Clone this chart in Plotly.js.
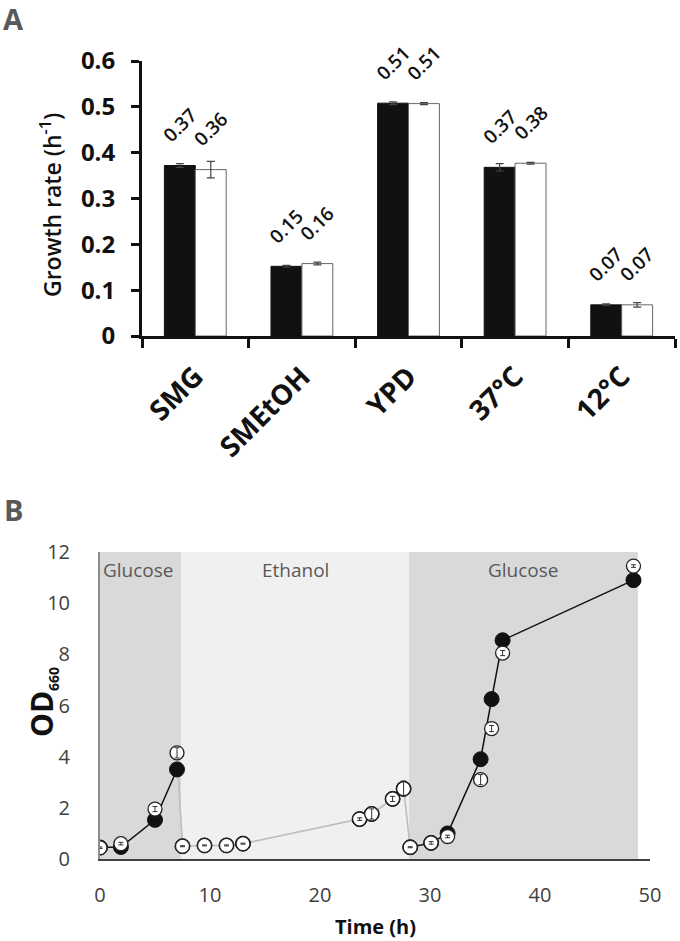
<!DOCTYPE html>
<html>
<head>
<meta charset="utf-8">
<script src="https://cdn.plot.ly/plotly-3.0.1.min.js"></script>
<style>html,body{margin:0;padding:0;background:#fff;}#chart{width:680px;height:941px;}</style>
</head>
<body>
<div id="chart"></div>
<script>
// ---------- Panel A data ----------
const categories = ['SMG', 'SMEtOH', 'YPD', '37°C', '12°C'];
const rateBlack = [0.372, 0.152, 0.508, 0.368, 0.068];
const errBlack  = [0.004, 0.002, 0.003, 0.008, 0.002];
const rateWhite = [0.363, 0.158, 0.507, 0.377, 0.068];
const errWhite  = [0.018, 0.003, 0.002, 0.002, 0.005];
const yTicksA = [0, 0.1, 0.2, 0.3, 0.4, 0.5, 0.6];
const yTickTextA = ['0', '0.1', '0.2', '0.3', '0.4', '0.5', '0.6'];

// ---------- Panel B data ----------
const timeH   = [0, 1.9, 5, 7, 7.5, 9.5, 11.5, 13, 23.6, 24.7, 26.6, 27.6, 28.2, 30.1, 31.6, 34.6, 35.6, 36.6, 48.5];
const odBlack = [0.45, 0.47, 1.53, 3.5, 0.5, 0.53, 0.53, 0.6, 1.56, 1.76, 2.35, 2.75, 0.46, 0.63, 1.0, 3.9, 6.25, 8.55, 10.9];
const odWhite = [0.44, 0.6, 1.95, 4.15, 0.5, 0.53, 0.53, 0.6, 1.56, 1.76, 2.35, 2.75, 0.46, 0.63, 0.88, 3.1, 5.1, 8.05, 11.45];
const errOdWhite = [0.03, 0.05, 0.1, 0.2, 0.02, 0.02, 0.02, 0.02, 0.05, 0.2, 0.1, 0.3, 0.02, 0.05, 0.05, 0.2, 0.12, 0.1, 0.05];
const phaseNames = ['Glucose', 'Ethanol', 'Glucose'];
const phaseStart = [0, 7.4, 28.1];
const phaseEnd   = [7.4, 28.1, 48.9];
const xTicksB = [0, 10, 20, 30, 40, 50];
const yTicksB = [0, 2, 4, 6, 8, 10, 12];

// ---------- geometry helpers ----------
const W = 680, H = 941;
const px = v => v / W;
const py = v => 1 - v / H;
const FONT = 'Open Sans, DejaVu Sans, sans-serif';

const bargap = 0.42;
const off = (1 - bargap) / 4;

const traces = [];
traces.push({
  type: 'bar', x: categories, y: rateBlack, xaxis: 'x', yaxis: 'y',
  marker: {color: '#111111', line: {color: '#111111', width: 1}},
  error_y: {type: 'data', array: errBlack, visible: true, color: '#444', thickness: 1.2, width: 4},
  hoverinfo: 'skip'
});
traces.push({
  type: 'bar', x: categories, y: rateWhite, xaxis: 'x', yaxis: 'y',
  marker: {color: '#ffffff', line: {color: '#666666', width: 1}},
  error_y: {type: 'data', array: errWhite, visible: true, color: '#444', thickness: 1.2, width: 4},
  hoverinfo: 'skip'
});

function phaseOf(t) {
  for (let i = phaseStart.length - 1; i >= 0; i--) if (t >= phaseStart[i]) return i;
  return 0;
}
const blx = [], bly = [];
let lastPhase = null;
timeH.forEach((t, i) => {
  const p = phaseOf(t);
  if (phaseNames[p] !== 'Glucose') return;
  if (lastPhase !== null && p !== lastPhase) { blx.push(null); bly.push(null); }
  blx.push(t); bly.push(odBlack[i]); lastPhase = p;
});
const gFrom = 7, gTo = 30.1;
const glx = [], gly = [];
timeH.forEach((t, i) => { if (t >= gFrom && t <= gTo) { glx.push(t); gly.push(odWhite[i]); } });

traces.push({type: 'scatter', mode: 'lines', x: glx, y: gly, xaxis: 'x2', yaxis: 'y2',
  line: {color: '#bdbdbd', width: 1.6}, hoverinfo: 'skip'});
traces.push({type: 'scatter', mode: 'lines', x: blx, y: bly, xaxis: 'x2', yaxis: 'y2',
  line: {color: '#111111', width: 1.5}, connectgaps: false, hoverinfo: 'skip'});
traces.push({type: 'scatter', mode: 'markers', x: timeH, y: odBlack, xaxis: 'x2', yaxis: 'y2',
  marker: {size: 15, color: '#111111', line: {color: '#111111', width: 1}}, hoverinfo: 'skip'});
traces.push({type: 'scatter', mode: 'markers', x: timeH, y: odWhite, xaxis: 'x2', yaxis: 'y2',
  marker: {size: 14, color: '#ffffff', line: {color: '#222222', width: 1.3}}, hoverinfo: 'skip'});
traces.push({type: 'scatter', mode: 'markers', x: timeH, y: odWhite, xaxis: 'x2', yaxis: 'y2',
  marker: {size: 1, color: 'rgba(0,0,0,0)'},
  error_y: {type: 'data', array: errOdWhite, visible: true, color: '#333', thickness: 1, width: 2.5},
  hoverinfo: 'skip'});

const phaseColors = {Glucose: '#d9d9d9', Ethanol: '#f0f0f0'};
const shapes = phaseNames.map((n, i) => ({
  type: 'rect', xref: 'x2', yref: 'y2', x0: phaseStart[i], x1: phaseEnd[i], y0: 0, y1: 12,
  fillcolor: phaseColors[n], line: {width: 0}, layer: 'below'
}));

const annotations = [];
categories.forEach((c, i) => {
  [[rateBlack, -off], [rateWhite, off]].forEach(([arr, o]) => {
    annotations.push({
      xref: 'x', yref: 'y', x: i + o, y: arr[i], text: arr[i].toFixed(2),
      showarrow: false, textangle: -45, xanchor: 'center', yanchor: 'bottom', yshift: 15,
      font: {family: FONT, size: 19, color: '#111', weight: 600}
    });
  });
});
phaseNames.forEach((n, i) => {
  const first = i === 0;
  annotations.push({
    xref: 'x2', yref: 'y2', x: first ? phaseStart[i] : (phaseStart[i] + phaseEnd[i]) / 2, y: 12,
    xanchor: first ? 'left' : 'center', yanchor: 'top', xshift: first ? 1 : 0, yshift: -3,
    text: n, showarrow: false, font: {family: FONT, size: 19, color: '#595959'}
  });
});
annotations.push({xref: 'paper', yref: 'paper', x: px(13), y: py(18), text: '<b>A</b>', showarrow: false,
  xanchor: 'center', yanchor: 'middle', font: {family: FONT, size: 29, color: '#595959'}});
annotations.push({xref: 'paper', yref: 'paper', x: px(13), y: py(509), text: '<b>B</b>', showarrow: false,
  xanchor: 'center', yanchor: 'middle', font: {family: FONT, size: 29, color: '#595959'}});
annotations.push({xref: 'paper', yref: 'paper', x: px(51), y: py(205), textangle: -90,
  text: 'Growth rate (h<sup>-1</sup>)', showarrow: false, xanchor: 'center', yanchor: 'middle',
  font: {family: FONT, size: 23, color: '#111', weight: 600}});
annotations.push({xref: 'paper', yref: 'paper', x: px(42), y: py(702), textangle: -90,
  text: '<b>OD</b><sub><b><span style="font-size:14px">660</span></b></sub>', showarrow: false,
  xanchor: 'center', yanchor: 'middle', font: {family: FONT, size: 30, color: '#111'}});
annotations.push({xref: 'paper', yref: 'paper', x: px(375), y: py(926),
  text: '<b>Time (h)</b>', showarrow: false, xanchor: 'center', yanchor: 'middle',
  font: {family: FONT, size: 20, color: '#111'}});

const layout = {
  width: W, height: H, margin: {l: 0, r: 0, t: 0, b: 0},
  paper_bgcolor: '#ffffff', plot_bgcolor: 'rgba(0,0,0,0)',
  showlegend: false, barmode: 'group', bargap: bargap, bargroupgap: 0,
  font: {family: FONT},
  xaxis: {
    domain: [px(142), px(675)], anchor: 'y', type: 'category', range: [-0.5, 4.5],
    categoryorder: 'array', categoryarray: categories,
    showline: true, linecolor: '#111', linewidth: 3, ticks: 'outside', ticklen: 9, tickwidth: 3,
    tickcolor: '#111', tickson: 'boundaries', tickangle: -45, showgrid: false, zeroline: false,
    tickfont: {family: FONT, size: 28, color: '#111', weight: 700}, ticklabelstandoff: 10
  },
  yaxis: {
    domain: [py(336), py(61)], anchor: 'x', range: [0, 0.6], tickvals: yTicksA, ticktext: yTickTextA,
    showline: true, linecolor: '#111', linewidth: 3, ticks: 'outside', ticklen: 8, tickwidth: 3,
    tickcolor: '#111', showgrid: false, zeroline: false,
    tickfont: {family: FONT, size: 24, color: '#111', weight: 700}, ticklabelstandoff: 11
  },
  xaxis2: {
    domain: [px(100), px(650)], anchor: 'y2', range: [0, 50], tickvals: xTicksB,
    showline: true, linecolor: '#404040', linewidth: 2, ticks: '', showgrid: false, zeroline: false,
    tickfont: {family: FONT, size: 20, color: '#404040'}, ticklabelstandoff: 17
  },
  yaxis2: {
    domain: [py(859), py(552)], anchor: 'x2', range: [0, 12], tickvals: yTicksB,
    showline: true, linecolor: '#8c8c8c', linewidth: 2, ticks: '', showgrid: false, zeroline: false,
    tickfont: {family: FONT, size: 20, color: '#404040'}, ticklabelstandoff: 24
  },
  shapes: shapes,
  annotations: annotations
};

Plotly.newPlot('chart', traces, layout, {staticPlot: true, displayModeBar: false});
</script>
</body>
</html>
